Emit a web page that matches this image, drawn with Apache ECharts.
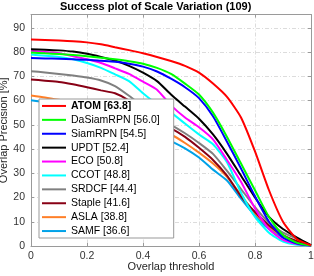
<!DOCTYPE html>
<html><head><meta charset="utf-8">
<script src="https://cdn.jsdelivr.net/npm/echarts@6/dist/echarts.min.js"></script>
<style>html,body{margin:0;padding:0;background:#fff}#c{width:314px;height:276px}</style>
</head><body><div id="c"></div>
<script>
const thresholds = [0,0.05,0.1,0.15,0.2,0.25,0.3,0.35,0.4,0.45,0.5,0.55,0.6,0.65,0.7,0.75,0.8,0.85,0.9,0.95,1];
const trackers = ['ATOM [63.8]','DaSiamRPN [56.0]','SiamRPN [54.5]','UPDT [52.4]','ECO [50.8]','CCOT [48.8]','SRDCF [44.4]','Staple [41.6]','ASLA [38.8]','SAMF [36.6]'];
const colors = ['#ff0000','#00ff00','#0000ff','#000000','#ff00ff','#00ffff','#808080','#880015','#ff7f27','#00a2e8'];
const atom   = [85.2,85,84.8,84.5,84,83.2,82,80.8,79.5,78,76.3,74.3,71.5,67,61.5,53,39,23,10,2.8,0.3];
const dasiam = [79.8,79.5,79.2,78.8,78.3,77.7,77,76.2,75.2,73.5,71,67,62.5,55,45,34,23,12,4.5,1.3,0.2];
const siam   = [77.6,77.4,77.2,77,76.8,76.4,76,75.2,74,72,69,65.5,61,53.5,43,32,20.5,10,3.5,1,0.2];
const updt   = [81.2,81,80.7,80.2,79.3,78,76.5,74.3,71.5,68,62.5,57.5,52.5,46,38,29,20,12,7,3.5,0.4];
const eco    = [80.5,80,79.5,78.3,77,75.5,73.3,71,67.8,64.5,58,53,49,44,35.5,26.5,15.5,7,2.5,0.8,0.1];
const ccot   = [79,78.5,78,77,75.5,73.5,70.8,68,63,58.5,55,50.5,46,42,34.5,22,12,5.5,1.8,0.5,0.1];
const srdcf  = [72.1,71.6,71,70.3,69.5,68.3,66,62,57.5,53,50,46.5,42.5,38,31,23.5,16,9.5,5.5,3,0.3];
const staple = [68.7,68.2,67.7,66.7,65.5,64.2,63,60,55,51,48.5,45,40.5,35.5,29,20.5,14,8.5,4.5,2,0.2];
const asla   = [62.1,61.3,60.3,59.2,58,56.5,55,53,51,48.5,46,42.5,38.5,34,28.5,21,13.5,8,4,1.5,0.1];
const samf   = [60.1,59.3,58.3,57,55.5,54,52.5,50.5,48.3,46,43.3,40.3,36.5,31.5,27,19.5,12.5,7,3.5,1.5,0.1];
const seriesValues = [atom,dasiam,siam,updt,eco,ccot,srdcf,staple,asla,samf];
const xTicks = [0,0.2,0.4,0.6,0.8,1];
const yTicks = [0,10,20,30,40,50,60,70,80,90];

const chart = echarts.init(document.getElementById('c'), null, {renderer:'canvas'});
const FONT = 'Liberation Sans, Arial, sans-serif';
const axisCol = '#9a9a9a';
const series = trackers.map((name,i)=>({
  name, type:'line', xAxisIndex:0, yAxisIndex:0,
  data: thresholds.map((t,j)=>[t, seriesValues[i][j]]),
  showSymbol:false, symbol:'none', smooth:0.2,
  lineStyle:{width:2, color:colors[i]}, itemStyle:{color:colors[i]},
  z: 10 - i, animation:false
}));
chart.setOption({
  animation:false,
  title:{text:'Success plot of Scale Variation (109)', left:60, top:1, padding:0,
    textStyle:{fontFamily:FONT, fontSize:11, fontWeight:'bold', color:'#000'}},
  grid:{left:31, right:3, top:14.5, bottom:30, containLabel:false, outerBoundsMode:'none'},
  legend:{
    orient:'vertical', left:39, top:99, padding:[0,14,0,3], itemGap:0,
    backgroundColor:'#fff', borderColor:'#999', borderWidth:1,
    itemWidth:24, itemHeight:2, icon:'rect',
    data: trackers.map((n,i)=>({name:n, icon:'rect', itemStyle:{color:colors[i]}})),
    formatter:(n)=> n===trackers[0] ? '{b|'+n+'}' : '{n|'+n+'}',
    textStyle:{fontFamily:FONT, fontSize:10.5, color:'#000', lineHeight:13.9,
      rich:{b:{fontFamily:FONT, fontSize:10.5, fontWeight:'bold', lineHeight:13.9, color:'#000'},
            n:{fontFamily:FONT, fontSize:10.5, lineHeight:13.9, color:'#000'}}},
    z:20
  },
  xAxis:[{
    type:'value', min:0, max:1, interval:0.2, position:'bottom',
    name:'Overlap threshold', nameLocation:'middle', nameGap:15, nameMoveOverlap:false,
    nameTextStyle:{fontFamily:FONT, fontSize:11, color:'#262626', verticalAlign:'top'},
    axisLine:{show:true, onZero:false, lineStyle:{color:axisCol, width:1}},
    axisTick:{show:true, inside:true, length:3, lineStyle:{color:axisCol}},
    axisLabel:{fontFamily:FONT, fontSize:10.5, color:'#333', margin:5,
      formatter:(v)=> xTicks.includes(Math.round(v*10)/10) ? String(Math.round(v*10)/10) : ''},
    splitLine:{show:true, lineStyle:{color:'#dcdcdc', width:1, type:[4,2,1,2]}}
  },{
    type:'value', min:0, max:1, interval:0.2, position:'top',
    axisLine:{show:true, onZero:false, lineStyle:{color:axisCol, width:1}},
    axisTick:{show:true, inside:true, length:3, lineStyle:{color:axisCol}},
    axisLabel:{show:false}, splitLine:{show:false}
  }],
  yAxis:[{
    type:'value', min:0, max:95.5, interval:10, position:'left',
    name:'Overlap Precision [%]', nameLocation:'middle', nameGap:22, nameMoveOverlap:false,
    nameTextStyle:{fontFamily:FONT, fontSize:11, color:'#262626'},
    axisLine:{show:true, onZero:false, lineStyle:{color:axisCol, width:1}},
    axisTick:{show:true, inside:true, length:3, lineStyle:{color:axisCol}},
    axisLabel:{fontFamily:FONT, fontSize:10.5, color:'#333', margin:6, showMaxLabel:false,
      formatter:(v)=> yTicks.includes(v) ? String(v) : ''},
    splitLine:{show:true, lineStyle:{color:'#dcdcdc', width:1, type:[4,2,1,2]}}
  },{
    type:'value', min:0, max:95.5, interval:10, position:'right',
    axisLine:{show:true, onZero:false, lineStyle:{color:axisCol, width:1}},
    axisTick:{show:true, inside:true, length:3, lineStyle:{color:axisCol}},
    axisLabel:{show:false}, splitLine:{show:false}
  }],
  series
});
</script></body></html>
